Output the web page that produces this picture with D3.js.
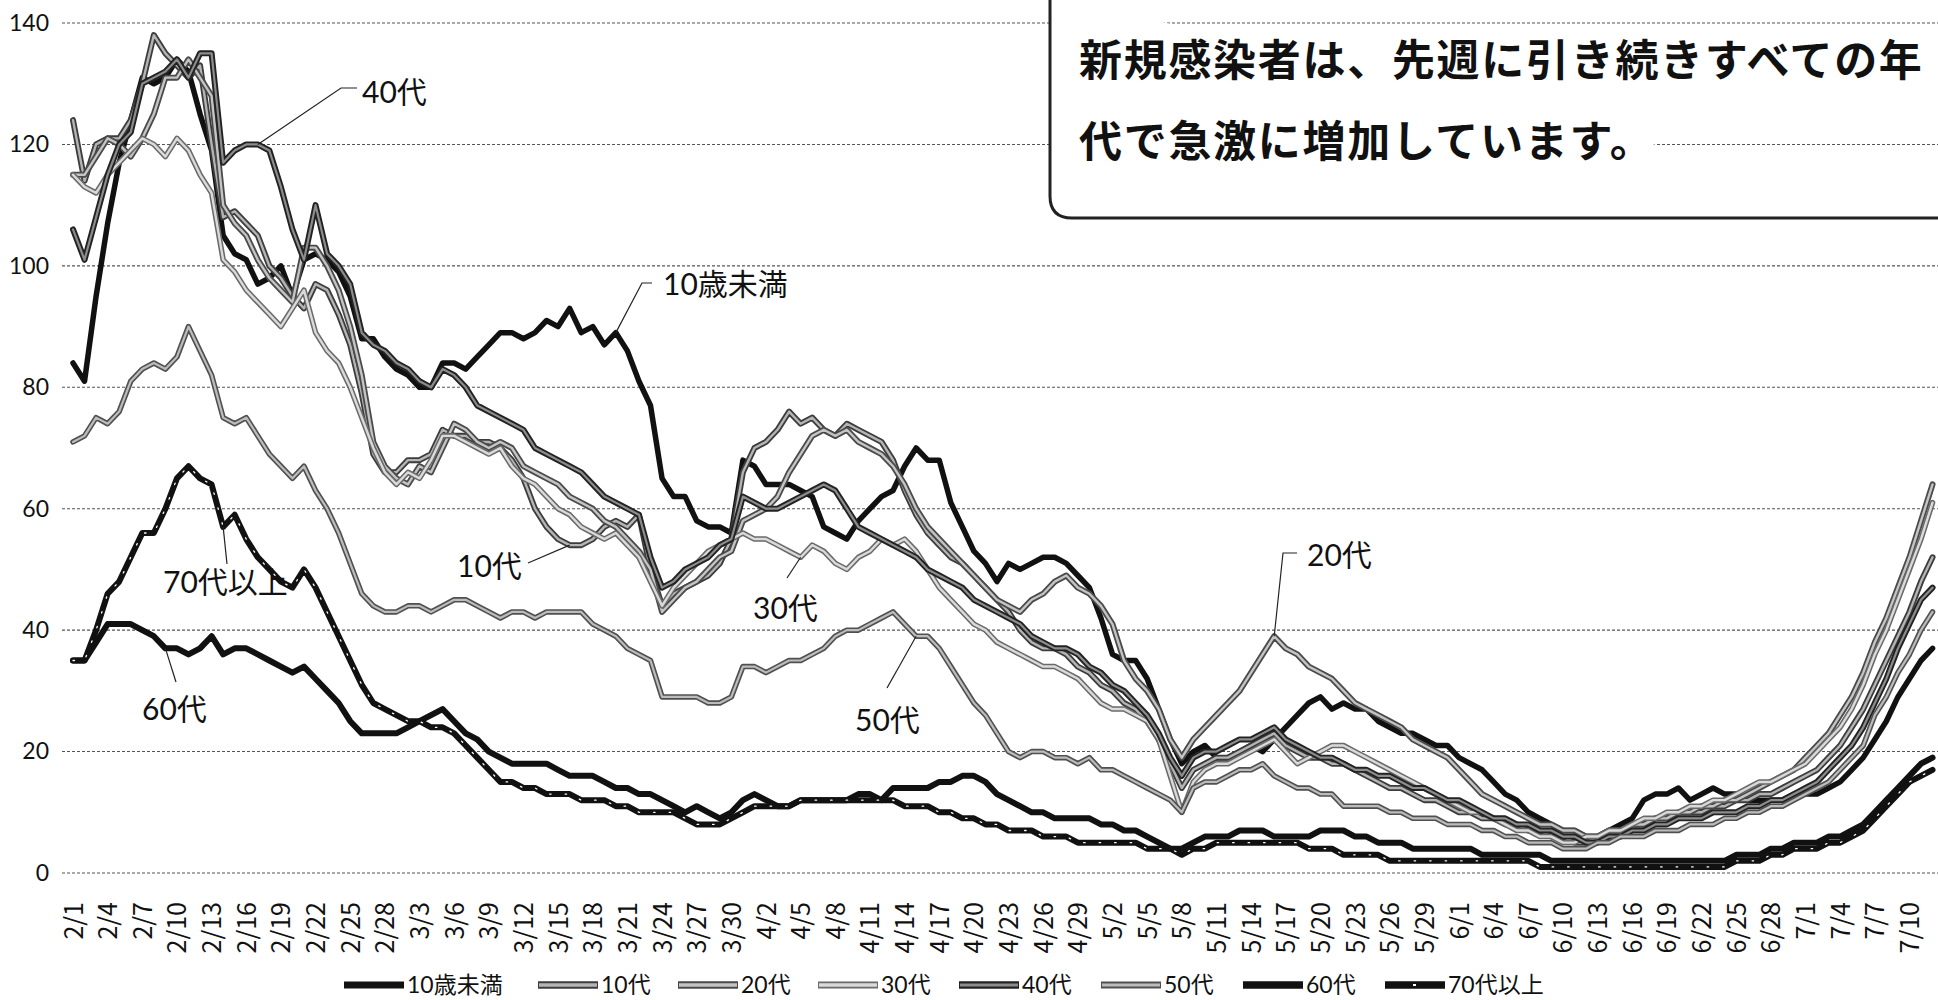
<!DOCTYPE html>
<html lang="ja">
<head>
<meta charset="utf-8">
<title>年代別 新規感染者の推移</title>
<script src="https://cdn.jsdelivr.net/npm/d3@7"></script>
<style>
  body { margin: 0; background: #fff; }
  svg { display: block; }
</style>
</head>
<body>
<svg id="chart" width="1938" height="1000"></svg>
<script>
'use strict';

// ---- data: one value per day, 2/1 .. 7/12 ----
var startDate = new Date(2021, 1, 1);
var dayCount = 162;
var dates = d3.timeDay.range(startDate, d3.timeDay.offset(startDate, dayCount));

var seriesNames = ['10歳未満', '10代', '20代', '30代', '40代', '50代', '60代', '70代以上'];

var under10 = [
  84, 81, 95, 107, 117, 124, 131, 130, 131, 134,
  132, 125, 119, 105, 102, 101, 97, 98, 100, 95,
  101, 102, 101, 99, 95, 88, 88, 85, 83, 82,
  80, 80, 84, 84, 83, 85, 87, 89, 89, 88,
  89, 91, 90, 93, 89, 90, 87, 89, 86, 81,
  77, 65, 62, 62, 58, 57, 57, 56, 68, 67,
  64, 64, 64, 63, 62, 57, 56, 55, 58, 60,
  62, 63, 67, 70, 68, 68, 61, 57, 53, 51,
  48, 51, 50, 51, 52, 52, 51, 49, 47, 42,
  36, 35, 35, 32, 27, 22, 18, 20, 21, 19,
  19, 20, 21, 20, 22, 24, 26, 28, 29, 27,
  28, 27, 27, 25, 24, 23, 23, 22, 21, 21,
  19, 18, 17, 15, 13, 12, 10, 9, 8, 7,
  7, 6, 6, 7, 8, 9, 12, 13, 13, 14,
  12, 13, 14, 13, 13, 12, 12, 12, 12, 13,
  13, 13, 14, 15, 17, 19, 22, 25, 29, 32,
  35, 37
];
var teens = [
  124, 114, 120, 121, 121, 124, 130, 138, 135, 133,
  131, 133, 120, 108, 109, 107, 105, 100, 98, 95,
  93, 97, 96, 92, 87, 79, 69, 66, 66, 68,
  68, 69, 73, 72, 72, 71, 71, 70, 68, 65,
  60, 57, 55, 54, 54, 55, 57, 58, 57, 59,
  50, 44, 46, 47, 48, 49, 51, 55, 66, 70,
  71, 73, 76, 74, 75, 73, 72, 74, 73, 72,
  71, 68, 63, 59, 56, 54, 52, 51, 49, 47,
  45, 43, 40, 38, 37, 37, 36, 34, 33, 31,
  30, 28, 27, 25, 22, 18, 14, 17, 18, 19,
  19, 20, 21, 22, 23, 21, 20, 19, 19, 18,
  18, 17, 16, 15, 14, 14, 13, 12, 12, 11,
  10, 10, 9, 9, 8, 8, 7, 7, 6, 6,
  5, 5, 6, 7, 7, 8, 8, 9, 9, 10,
  10, 10, 11, 11, 12, 12, 13, 13, 14, 15,
  16, 17, 19, 21, 24, 27, 31, 35, 39, 43,
  48, 52
];
var twenties = [
  115, 115, 118, 121, 120, 118, 121, 125, 131, 131,
  134, 131, 128, 110, 107, 105, 101, 98, 96, 94,
  103, 103, 100, 96, 90, 82, 71, 67, 65, 64,
  67, 66, 70, 74, 73, 71, 70, 71, 70, 67,
  66, 65, 64, 62, 61, 60, 58, 57, 55, 53,
  50, 43, 45, 47, 48, 50, 52, 53, 58, 59,
  60, 62, 66, 69, 72, 73, 72, 73, 71, 70,
  69, 67, 64, 60, 57, 55, 53, 51, 49, 47,
  45, 44, 43, 45, 46, 48, 49, 47, 46, 44,
  41, 35, 32, 30, 27, 22, 19, 22, 24, 26,
  28, 30, 33, 36, 39, 37, 36, 34, 33, 32,
  30, 28, 27, 26, 25, 24, 22, 21, 20, 19,
  17, 15, 13, 12, 11, 10, 9, 8, 8, 7,
  7, 6, 6, 7, 7, 8, 8, 9, 9, 10,
  10, 11, 11, 12, 12, 13, 14, 15, 16, 17,
  19, 21, 23, 26, 29, 33, 38, 42, 47, 52,
  58, 64
];
var thirties = [
  115, 113, 112, 115, 117, 119, 121, 120, 118, 121,
  119, 115, 112, 101, 99, 96, 94, 92, 90, 93,
  96, 89, 86, 84, 80, 75, 70, 66, 64, 66,
  65, 68, 72, 72, 71, 70, 69, 70, 67, 65,
  64, 62, 60, 59, 57, 56, 55, 56, 54, 52,
  48, 44, 47, 49, 51, 53, 54, 55, 56, 55,
  55, 54, 53, 52, 54, 53, 51, 50, 52, 53,
  55, 54, 55, 53, 50, 47, 45, 43, 41, 40,
  38, 37, 36, 35, 34, 34, 33, 32, 30, 28,
  27, 27, 26, 25, 22, 16, 10, 15, 17, 18,
  18, 19, 20, 21, 22, 20, 18, 19, 20, 21,
  21, 20, 19, 18, 17, 16, 15, 14, 13, 12,
  11, 10, 10, 9, 8, 7, 7, 6, 6, 5,
  5, 6, 6, 7, 7, 8, 9, 9, 10, 10,
  11, 11, 12, 12, 13, 14, 15, 15, 16, 17,
  18, 20, 22, 24, 27, 31, 36, 40, 45, 50,
  55, 61
];
var forties = [
  106, 101, 108, 115, 120, 122, 130, 131, 132, 134,
  131, 135, 135, 117, 119, 120, 120, 119, 113, 106,
  101, 110, 102, 100, 97, 89, 87, 86, 84, 83,
  81, 80, 83, 82, 80, 77, 76, 75, 74, 73,
  70, 69, 68, 67, 66, 64, 62, 61, 60, 59,
  52, 47, 48, 50, 51, 52, 54, 55, 62, 61,
  60, 60, 61, 62, 63, 64, 63, 60, 57, 56,
  55, 54, 53, 52, 50, 49, 48, 47, 45, 44,
  43, 42, 41, 39, 38, 37, 37, 36, 34, 33,
  31, 30, 28, 26, 23, 19, 16, 19, 20, 20,
  21, 22, 22, 23, 24, 22, 21, 20, 19, 19,
  18, 17, 17, 16, 16, 15, 14, 14, 13, 12,
  12, 11, 10, 9, 9, 8, 8, 7, 7, 6,
  6, 5, 5, 6, 6, 7, 7, 8, 8, 9,
  9, 9, 10, 10, 10, 11, 11, 12, 12, 13,
  14, 15, 17, 19, 21, 24, 28, 32, 37, 41,
  45, 47
];
var fifties = [
  71, 72, 75, 74, 76, 81, 83, 84, 83, 85,
  90, 86, 82, 75, 74, 75, 72, 69, 67, 65,
  67, 63, 60, 56, 51, 46, 44, 43, 43, 44,
  44, 43, 44, 45, 45, 44, 43, 42, 43, 43,
  42, 43, 43, 43, 43, 41, 40, 39, 37, 36,
  35, 29, 29, 29, 29, 28, 28, 29, 34, 34,
  33, 34, 35, 35, 36, 37, 39, 40, 40, 41,
  42, 43, 41, 39, 39, 37, 34, 31, 28, 26,
  23, 20, 19, 20, 20, 19, 19, 18, 19, 17,
  17, 16, 15, 14, 13, 12, 10, 14, 15, 15,
  16, 17, 17, 18, 16, 15, 14, 14, 13, 13,
  11, 11, 11, 11, 10, 10, 9, 9, 9, 8,
  8, 8, 7, 7, 6, 6, 5, 5, 5, 4,
  4, 4, 5, 5, 6, 6, 6, 7, 7, 7,
  8, 8, 8, 9, 9, 10, 10, 11, 11, 12,
  13, 14, 15, 17, 19, 21, 26, 29, 33, 36,
  40, 43
];
var sixties = [
  35, 35, 38, 41, 41, 41, 40, 39, 37, 37,
  36, 37, 39, 36, 37, 37, 36, 35, 34, 33,
  34, 32, 30, 28, 25, 23, 23, 23, 23, 24,
  25, 26, 27, 25, 23, 22, 20, 19, 18, 18,
  18, 18, 17, 16, 16, 16, 15, 14, 14, 13,
  13, 12, 11, 10, 11, 10, 9, 10, 12, 13,
  12, 11, 11, 12, 12, 12, 12, 12, 13, 13,
  12, 14, 14, 14, 14, 15, 15, 16, 16, 15,
  13, 12, 11, 10, 10, 9, 9, 9, 9, 8,
  8, 7, 7, 6, 5, 4, 4, 5, 6, 6,
  6, 7, 7, 7, 6, 6, 6, 6, 7, 7,
  7, 6, 6, 5, 5, 5, 4, 4, 4, 4,
  4, 4, 3, 3, 3, 3, 3, 3, 2, 2,
  2, 2, 2, 2, 2, 2, 2, 2, 2, 2,
  2, 2, 2, 2, 3, 3, 3, 4, 4, 5,
  5, 5, 6, 6, 7, 8, 10, 12, 14, 16,
  18, 19
];
var over70 = [
  35, 35, 40, 46, 48, 52, 56, 56, 60, 65,
  67, 65, 64, 57, 59, 55, 52, 50, 48, 47,
  50, 47, 43, 39, 35, 31, 28, 27, 26, 25,
  25, 24, 24, 23, 21, 19, 17, 15, 15, 14,
  14, 13, 13, 13, 12, 12, 12, 11, 11, 10,
  10, 10, 10, 9, 8, 8, 8, 9, 10, 11,
  11, 11, 11, 12, 12, 12, 12, 12, 12, 12,
  12, 12, 11, 11, 11, 10, 10, 9, 9, 8,
  8, 7, 7, 7, 6, 6, 6, 5, 5, 5,
  5, 5, 5, 4, 4, 4, 3, 4, 4, 5,
  5, 5, 5, 5, 5, 5, 5, 4, 4, 4,
  3, 3, 3, 3, 2, 2, 2, 2, 2, 2,
  2, 2, 2, 2, 2, 2, 2, 1, 1, 1,
  1, 1, 1, 1, 1, 1, 1, 1, 1, 1,
  1, 1, 1, 1, 2, 2, 2, 3, 3, 4,
  4, 4, 5, 5, 6, 7, 9, 11, 13, 15,
  16, 17
];

var seriesValues = [under10, teens, twenties, thirties, forties, fifties, sixties, over70];
var yTicks = [0, 20, 40, 60, 80, 100, 120, 140];
var headline = ['新規感染者は、先週に引き続きすべての年', '代で急激に増加しています。'];

// ---- look of each series (scan of a grey-scale print) ----
var looks = [
  {outer: '#111', ow: 5.5},
  {outer: '#3c3c3c', ow: 6, inner: '#b4b4b4', iw: 2.4},
  {outer: '#4a4a4a', ow: 6, inner: '#c4c4c4', iw: 2.4},
  {outer: '#6a6a6a', ow: 5.5, inner: '#dadada', iw: 2.4},
  {outer: '#222', ow: 6, inner: '#8c8c8c', iw: 2.2},
  {outer: '#505050', ow: 5.5, inner: '#bcbcbc', iw: 2.2},
  {outer: '#111', ow: 6},
  {outer: '#111', ow: 6, dots: true}
];

var svg = d3.select('#chart');
var width = +svg.attr('width');

var x = d3.scaleTime()
  .domain([dates[0], dates[dates.length - 1]])
  .range([73, 73 + 11.55 * (dates.length - 1)]);
var y = d3.scaleLinear().domain([0, 140]).range([873, 23]);

var latin = "Lato, 'Noto Sans CJK JP', sans-serif";

// gridlines
svg.append('g')
  .selectAll('line')
  .data(yTicks)
  .enter().append('line')
  .attr('x1', 62).attr('x2', width)
  .attr('y1', function(d) { return y(d); })
  .attr('y2', function(d) { return y(d); })
  .attr('stroke', '#555')
  .attr('stroke-width', 1.1)
  .attr('stroke-dasharray', '3 2');

// y axis
var yAxisG = svg.append('g')
  .attr('transform', 'translate(52,0)')
  .call(d3.axisLeft(y).tickValues(yTicks).tickSize(0).tickPadding(3));
yAxisG.select('.domain').remove();
yAxisG.selectAll('text')
  .attr('font-family', latin)
  .attr('font-size', 23)
  .attr('fill', '#111');

// x axis, every third day, rotated
var xAxisG = svg.append('g')
  .attr('transform', 'translate(0,902)')
  .call(d3.axisBottom(x)
    .tickValues(dates.filter(function(d, i) { return i % 3 === 0; }))
    .tickFormat(d3.timeFormat('%-m/%-d'))
    .tickSize(0));
xAxisG.select('.domain').remove();
xAxisG.selectAll('text')
  .attr('transform', 'rotate(-90)')
  .attr('text-anchor', 'end')
  .attr('x', 0).attr('y', 0)
  .attr('dy', '0.36em')
  .style('font-family', "'Noto Sans CJK JP', sans-serif")
  .style('font-size', '25px')
  .attr('fill', '#111');

// lines
var line = d3.line()
  .x(function(d, i) { return x(dates[i]); })
  .y(function(d) { return y(d); })
  .curve(d3.curveLinear);

var lines = svg.append('g').attr('fill', 'none')
  .attr('stroke-linejoin', 'round').attr('stroke-linecap', 'round');

seriesValues.forEach(function(vals, k) {
  var lk = looks[k];
  lines.append('path').attr('d', line(vals))
    .attr('stroke', lk.outer).attr('stroke-width', lk.ow);
  if (lk.inner) {
    lines.append('path').attr('d', line(vals))
      .attr('stroke', lk.inner).attr('stroke-width', lk.iw);
  }
  if (lk.dots) {
    lines.append('path').attr('d', line(vals))
      .attr('stroke', '#fff').attr('stroke-width', 1.3)
      .attr('stroke-dasharray', '1.5 14');
  }
});

// text box
svg.append('path')
  .attr('d', 'M1050,-6 V196 Q1050,218 1072,218 H1950')
  .attr('fill', '#fff')
  .attr('stroke', '#222')
  .attr('stroke-width', 3);

svg.append('g')
  .selectAll('text')
  .data(headline)
  .enter().append('text')
  .attr('x', 1079)
  .attr('y', function(d, i) { return 76 + i * 81; })
  .attr('font-family', "'Noto Sans CJK JP', sans-serif")
  .attr('font-weight', 700)
  .attr('font-size', 43)
  .attr('letter-spacing', 1.7)
  .attr('fill', '#111')
  .text(function(d) { return d; });

// callout labels with leader lines (leader ends at the data point)
var callouts = [
  {k: 4, i: 16, tx: 362, ty: 92, pts: [[357, 88], [341, 88]]},
  {k: 0, i: 47, tx: 663, ty: 284, pts: [[652, 283], [642, 283]]},
  {k: 1, i: 43, tx: 457, ty: 566, pts: [[528, 563]]},
  {k: 7, i: 13, tx: 163, ty: 582, pts: [[227, 564]]},
  {k: 6, i: 8, tx: 142, ty: 709, pts: [[176, 682]]},
  {k: 3, i: 63, tx: 753, ty: 608, pts: [[787, 578]]},
  {k: 5, i: 73, tx: 855, ty: 720, pts: [[887, 688]]},
  {k: 2, i: 104, tx: 1307, ty: 555, pts: [[1297, 553], [1283, 553]]}
];

var notes = svg.append('g');
callouts.forEach(function(c) {
  var end = [x(dates[c.i]), y(seriesValues[c.k][c.i])];
  notes.append('path')
    .attr('d', d3.line()(c.pts.concat([end])))
    .attr('fill', 'none')
    .attr('stroke', '#222')
    .attr('stroke-width', 1.2);
  notes.append('text')
    .attr('x', c.tx).attr('y', c.ty)
    .attr('dy', '0.35em')
    .attr('font-family', latin)
    .attr('font-size', 30)
    .attr('fill', '#111')
    .text(seriesNames[c.k]);
});

// legend
var legendX = [344, 538, 678, 818, 959, 1101, 1243, 1385];
var legend = svg.append('g').attr('transform', 'translate(0,985)');
seriesNames.forEach(function(name, k) {
  var lk = looks[k];
  var gx = legendX[k];
  legend.append('line')
    .attr('x1', gx).attr('x2', gx + 60)
    .attr('stroke', lk.outer).attr('stroke-width', lk.ow + 1.5);
  if (lk.inner) {
    legend.append('line')
      .attr('x1', gx + 1).attr('x2', gx + 59)
      .attr('stroke', lk.inner).attr('stroke-width', lk.iw + 1);
  }
  if (lk.dots) {
    legend.append('line')
      .attr('x1', gx + 28).attr('x2', gx + 31)
      .attr('stroke', '#fff').attr('stroke-width', 2);
  }
  legend.append('text')
    .attr('x', gx + 63)
    .attr('dy', '0.35em')
    .attr('font-family', latin)
    .attr('font-size', 23)
    .attr('fill', '#111')
    .text(name);
});
</script>
</body>
</html>
